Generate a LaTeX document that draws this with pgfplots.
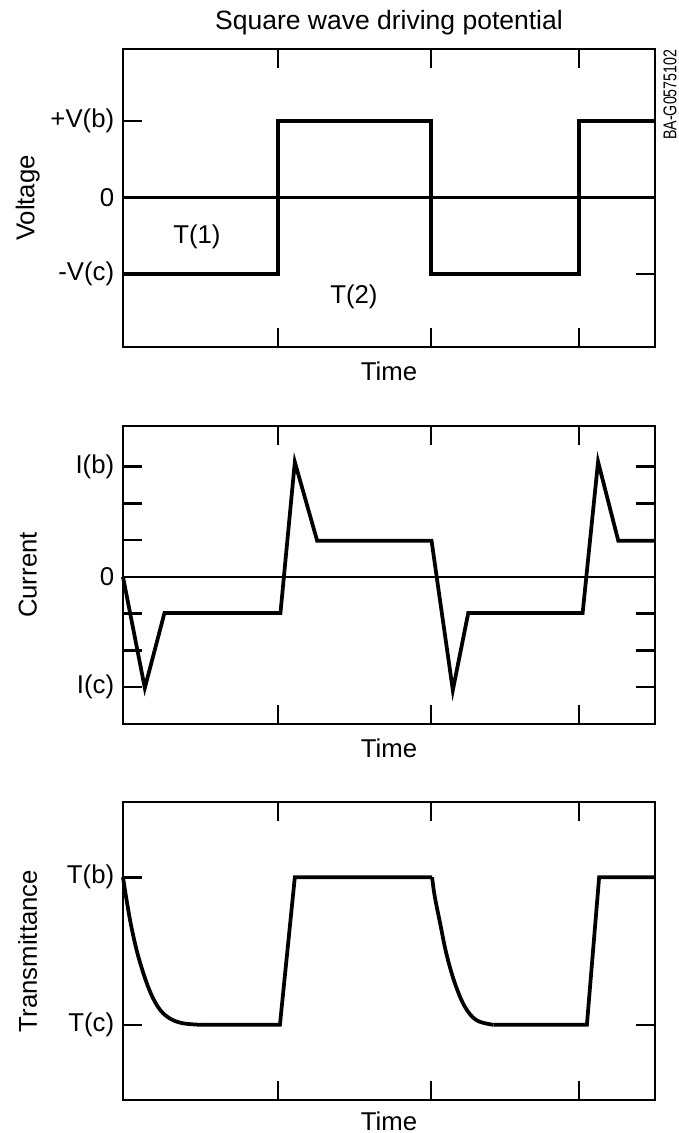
\documentclass[border=0pt]{standalone}
\usepackage{fontspec}
\setmainfont{Liberation Sans}
\usepackage{graphicx}
\usepackage{pgfplots}
\pgfplotsset{compat=1.18}

% 1 px of the reference = 0.4pt
\pgfplotsset{
  panel/.style={
    scale only axis, width=212.8pt, height=119.2pt,
    xmin=0, xmax=10,
    anchor=north west,
    clip=false,
    axis line style={line width=0.8pt},
    tick align=inside, tick pos=both,
    major tick length=7.5pt,
    every tick/.style={black, line width=1pt},
    xtick={2.91,5.79,8.57}, xticklabels={},
    tick label style={font=\fontsize{10.3}{12}\selectfont},
    every axis x label/.style={at={(axis description cs:0.5,0)}, anchor=base, yshift=-13.2pt,
      font=\fontsize{10.3}{12}\selectfont},
    every axis y label/.style={at={(axis description cs:-0.179,0.5)}, rotate=90, anchor=center,
      font=\fontsize{10.3}{12}\selectfont},
    xlabel={Time},
  },
  sig/.style={black, line width=1.5pt, line join=miter},
}

\begin{document}
\begin{tikzpicture}
\path[use as bounding box] (-49.2pt,19.6pt) rectangle (222pt,-433.6pt);

% voltage
\begin{axis}[panel, at={(0,0)},
  ymin=-1.96, ymax=1.945,
  ytick={-1,0,1}, yticklabels={-V(c),0,+V(b)},
  ylabel={Voltage},
]
\addplot[black, line width=1.5pt] coordinates {(0,0) (10,0)};
\addplot[sig] coordinates {(0,-1) (2.91,-1) (2.91,1) (5.79,1) (5.79,-1) (8.57,-1) (8.57,1) (10,1)};
\node[font=\fontsize{10.3}{12}\selectfont] at (axis cs:1.39,-0.52) {T(1)};
\node[font=\fontsize{10.3}{12}\selectfont] at (axis cs:4.34,-1.30) {T(2)};
\node[anchor=base, font=\fontsize{10.6}{12}\selectfont]
  at ([yshift=8pt]rel axis cs:0.5,1) {Square wave driving potential};
\node[rotate=90, anchor=east, inner sep=0pt]
  at ([xshift=6pt]rel axis cs:1,1) {\scalebox{0.77}[1]{\fontsize{7.4}{8}\selectfont BA-G0575102}};
\end{axis}

% current
\begin{axis}[panel, at={(0,-150.8pt)},
  ymin=-4.0, ymax=4.1,
  ytick={-3,-2,-1,0,1,2,3}, yticklabels={I(c),,,0,,,I(b)},
  ylabel={Current},
]
\addplot[black, line width=1pt] coordinates {(0,0) (10,0)};
\addplot[sig] coordinates {(0,0) (0.41,-3.02) (0.78,-0.98) (2.96,-0.98) (3.23,3.12)
  (3.65,0.98) (5.80,0.98) (6.20,-3.08) (6.49,-0.98) (8.64,-0.98) (8.93,3.13)
  (9.31,0.98) (10,0.98)};
\end{axis}

% transmittance: decays drawn smooth, the rest straight
\begin{axis}[panel, at={(0,-301.2pt)},
  ymin=-0.51, ymax=1.51,
  ytick={0,1}, yticklabels={T(c),T(b)},
  ylabel={Transmittance},
  every axis x label/.append style={yshift=1pt},
]
\addplot[sig, smooth, tension=0.6] coordinates {(0,1.0) (0.07,0.84) (0.16,0.66) (0.29,0.46)
  (0.48,0.25) (0.66,0.12) (0.85,0.05) (1.10,0.012) (1.45,0)};
\addplot[sig] coordinates {(1.45,0) (2.95,0) (3.23,1.0) (5.81,1.0)};
\addplot[sig, smooth, tension=0.6] coordinates {(5.81,1.0) (5.86,0.87) (5.96,0.69)
  (6.08,0.48) (6.24,0.28) (6.43,0.12) (6.65,0.03) (6.96,0)};
\addplot[sig] coordinates {(6.96,0) (8.72,0) (8.95,1.0) (10,1.0)};
\end{axis}
\end{tikzpicture}
\end{document}
